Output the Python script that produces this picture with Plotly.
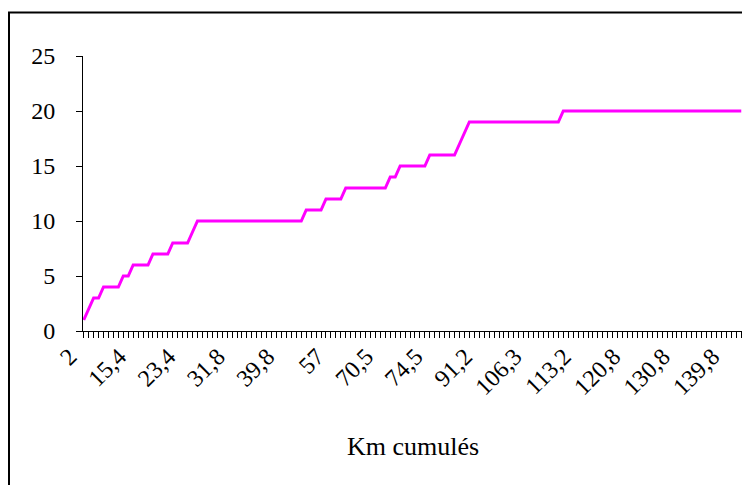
import plotly.graph_objects as go

# Cumulative count per category (134 categories along "Km cumulés")
counts = (
    [1, 2, 3, 3, 4, 4, 4, 4, 5, 5, 6, 6, 6, 6, 7, 7, 7, 7, 8, 8, 8, 8, 9]
    + [10] * 22
    + [11] * 4
    + [12] * 4
    + [13] * 9
    + [14] * 2
    + [15] * 6
    + [16] * 6
    + [17, 18]
    + [19] * 19
    + [20] * 37
)
# Visible category labels (every 10th category)
km_labels = ["2", "15,4", "23,4", "31,8", "39,8", "57", "70,5", "74,5",
             "91,2", "106,3", "113,2", "120,8", "130,8", "139,8"]
label_step = 10
y_ticks = [0, 5, 10, 15, 20, 25]
x_title = "Km cumulés"

n = len(counts)
cat_idx = list(range(n))
ticktext = [km_labels[i // label_step] if i % label_step == 0 and i // label_step < len(km_labels) else ""
            for i in cat_idx]

font_family = "Liberation Serif, Times New Roman, serif"

# page body has an 8px margin: figure occupies page x 8..750, y 8..485
OFF = 8
W, H = 750 - OFF, 485 - OFF
L, T = 83 - OFF, 56 - OFF
R = W - (742 - OFF)
B = H - (331 - OFF)
pw = W - L - R
ph = H - T - B

def px_x(p):
    return (p - OFF - L) / pw

def px_y(p):
    return (H - B - (p - OFF)) / ph

fig = go.Figure()
fig.add_trace(go.Scatter(x=cat_idx, y=counts, mode="lines",
                         line=dict(color="#FF00FF", width=3), hoverinfo="skip"))

frame = dict(color="black", width=2)
fig.update_layout(
    width=W, height=H,
    margin=dict(l=L, r=R, t=T, b=B, pad=0, autoexpand=False),
    paper_bgcolor="white", plot_bgcolor="white",
    showlegend=False,
    font=dict(family=font_family, size=24, color="black"),
    xaxis=dict(
        range=[-0.15, n - 1 + 0.15], automargin=False,
        tickmode="array", tickvals=cat_idx, ticktext=ticktext,
        tickangle=-45, ticks="outside", ticklen=6, tickwidth=1, tickcolor="black",
        showline=True, linecolor="black", linewidth=1,
        showgrid=False, zeroline=False, ticklabelshift=-14, ticklabelstandoff=-5,
        tickfont=dict(family=font_family, size=24),
    ),
    yaxis=dict(
        range=[0, 25], automargin=False, tickmode="array", tickvals=y_ticks,
        ticks="outside", ticklen=6, tickwidth=1, tickcolor="black",
        showline=True, linecolor="black", linewidth=1,
        showgrid=False, zeroline=False, ticklabelstandoff=16,
        tickfont=dict(family=font_family, size=24),
    ),
    annotations=[dict(text=x_title, xref="paper", yref="paper", x=0.5, y=px_y(446),
                      xanchor="center", yanchor="middle", showarrow=False,
                      font=dict(family=font_family, size=26, color="black"))],
    shapes=[
        dict(type="line", xref="paper", yref="paper",
             x0=px_x(8), x1=px_x(752), y0=px_y(12.5), y1=px_y(12.5), line=frame),
        dict(type="line", xref="paper", yref="paper",
             x0=px_x(9), x1=px_x(9), y0=px_y(12), y1=px_y(487), line=frame),
    ],
)

fig.write_html("out.html", config={"displayModeBar": False})
